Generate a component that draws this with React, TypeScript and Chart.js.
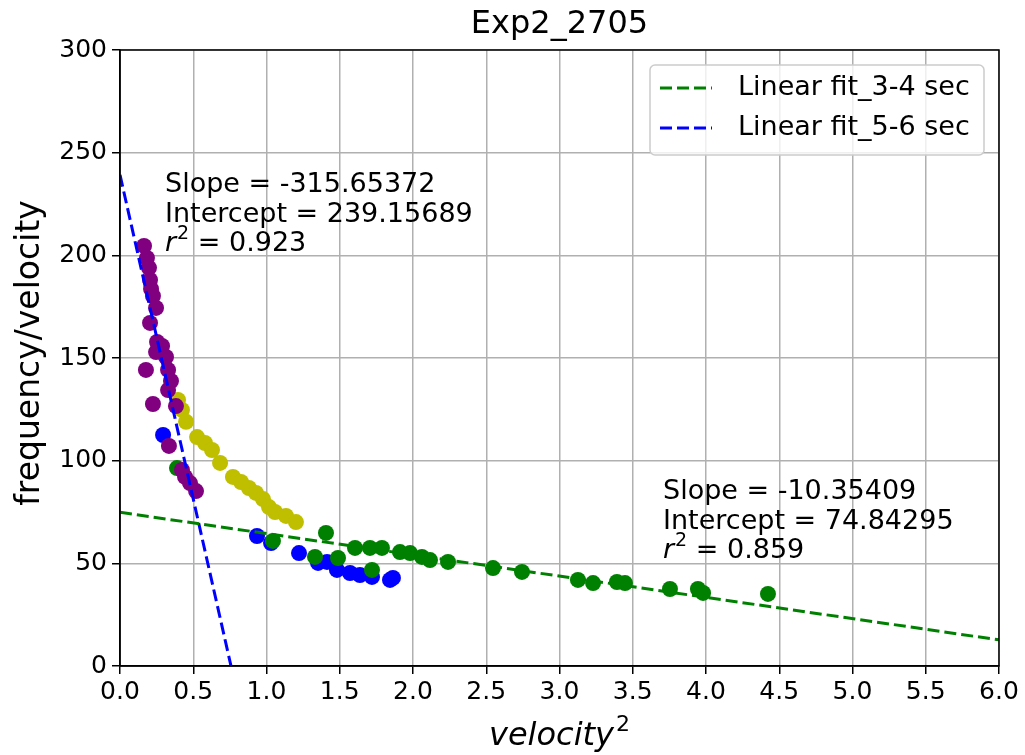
import React, { useEffect, useRef } from "react";
import { Chart, registerables } from "chart.js";

Chart.register(...registerables);

// ---- data ----
const xTickValues = [0, 0.5, 1.0, 1.5, 2.0, 2.5, 3.0, 3.5, 4.0, 4.5, 5.0, 5.5, 6.0];
const yTickValues = [0, 50, 100, 150, 200, 250, 300];

const purpleX = [0.164, 0.184, 0.198, 0.205, 0.212, 0.225, 0.246, 0.205, 0.253, 0.287, 0.246, 0.314, 0.177, 0.328, 0.348, 0.328, 0.382, 0.225, 0.334, 0.423, 0.444, 0.478, 0.519];
const purpleY = [204.6, 198.7, 193.9, 188.0, 183.6, 180.2, 174.4, 167.1, 157.8, 155.9, 152.9, 150.5, 144.2, 144.2, 138.8, 134.4, 126.6, 127.6, 107.2, 95.5, 92.1, 89.1, 85.2];

const yellowX = [0.396, 0.423, 0.451, 0.526, 0.58, 0.628, 0.683, 0.771, 0.826, 0.88, 0.928, 0.976, 1.017, 1.058, 1.133, 1.201];
const yellowY = [129.6, 124.7, 118.9, 111.5, 108.6, 105.2, 98.9, 92.1, 89.6, 86.7, 84.3, 81.3, 77.4, 75.0, 73.1, 70.1];

const blueX = [0.294, 0.935, 1.031, 1.222, 1.352, 1.413, 1.481, 1.57, 1.638, 1.72, 1.843, 1.863];
const blueY = [112.5, 63.3, 59.9, 55.0, 50.2, 50.7, 46.8, 45.3, 44.3, 43.4, 41.9, 42.9];

const greenX = [0.389, 1.044, 1.406, 1.331, 1.488, 1.604, 1.706, 1.72, 1.788, 1.911, 1.98, 2.061, 2.116, 2.239, 2.546, 2.744, 3.126, 3.229, 3.392, 3.447, 3.754, 3.945, 3.98, 4.423];
const greenY = [96.4, 60.9, 64.8, 53.1, 52.6, 57.5, 57.5, 46.8, 57.5, 55.5, 55.0, 53.1, 51.6, 50.7, 47.7, 45.8, 41.9, 40.4, 40.9, 40.4, 37.5, 37.5, 35.6, 35.1];

const fitGreen = { slope: -10.35409, intercept: 74.84295, r2: "0.859", xRange: [0, 6] };
const fitBlue = { slope: -315.65372, intercept: 239.15689, r2: "0.923", xRange: [0, 0.7577] };

const legendLabels = ["Linear fit_3-4 sec", "Linear fit_5-6 sec"];
const titleText = "Exp2_2705";
const yLabelText = "frequency/velocity";
const xLabelText = "velocity";

const FONT = "'DejaVu Sans', sans-serif";
const TXT = 27;

const toPts = (xs: number[], ys: number[]) => xs.map((x, i) => ({ x, y: ys[i] }));
const fitPts = (f: { slope: number; intercept: number; xRange: number[] }) =>
  f.xRange.map((x) => ({ x, y: f.slope * x + f.intercept }));

function drawR2(ctx: CanvasRenderingContext2D, x: number, y: number, val: string) {
  ctx.textBaseline = "middle";
  ctx.textAlign = "left";
  ctx.font = `italic ${TXT}px ${FONT}`;
  ctx.fillText("r", x, y);
  let w = ctx.measureText("r").width;
  ctx.font = `19px ${FONT}`;
  ctx.fillText("2", x + w + 1, y - 10);
  w += ctx.measureText("2").width + 1;
  ctx.font = `${TXT}px ${FONT}`;
  ctx.fillText(" = " + val, x + w, y);
}

const overlayPlugin = {
  id: "overlay",
  afterDraw(chart: any) {
    const ctx: CanvasRenderingContext2D = chart.ctx;
    const a = chart.chartArea;
    ctx.save();
    // frame
    ctx.strokeStyle = "#000";
    ctx.lineWidth = 1.5;
    ctx.setLineDash([]);
    ctx.strokeRect(a.left, a.top, a.right - a.left, a.bottom - a.top);

    ctx.fillStyle = "#000";
    // title
    ctx.font = `32px ${FONT}`;
    ctx.textAlign = "center";
    ctx.textBaseline = "middle";
    ctx.fillText(titleText, (a.left + a.right) / 2, 25);

    // y label
    ctx.save();
    ctx.translate(30, 353);
    ctx.rotate(-Math.PI / 2);
    ctx.font = `33px ${FONT}`;
    ctx.fillText(yLabelText, 0, 0);
    ctx.restore();

    // x label with superscript
    ctx.font = `italic 32px ${FONT}`;
    const w1 = ctx.measureText(xLabelText).width;
    ctx.font = `22px ${FONT}`;
    const w2 = ctx.measureText("2").width;
    const cx = (a.left + a.right) / 2;
    const sx = cx - (w1 + w2 + 2) / 2;
    ctx.textAlign = "left";
    ctx.font = `italic 32px ${FONT}`;
    ctx.fillText(xLabelText, sx, 737);
    ctx.font = `22px ${FONT}`;
    ctx.fillText("2", sx + w1 + 2, 725);

    // annotations
    ctx.font = `${TXT}px ${FONT}`;
    ctx.textAlign = "left";
    ctx.fillText(`Slope = ${fitBlue.slope.toFixed(5)}`, 165, 185);
    ctx.fillText(`Intercept = ${fitBlue.intercept.toFixed(5)}`, 165, 215);
    drawR2(ctx, 165, 244, fitBlue.r2);
    ctx.font = `${TXT}px ${FONT}`;
    ctx.fillText(`Slope = ${fitGreen.slope.toFixed(5)}`, 663, 492);
    ctx.fillText(`Intercept = ${fitGreen.intercept.toFixed(5)}`, 663, 522);
    drawR2(ctx, 663, 551, fitGreen.r2);

    // legend
    const bx = 650, by = 65, bw = 334, bh = 90;
    ctx.beginPath();
    (ctx as any).roundRect(bx, by, bw, bh, 5);
    ctx.fillStyle = "rgba(255,255,255,0.8)";
    ctx.fill();
    ctx.strokeStyle = "#cccccc";
    ctx.lineWidth = 1.5;
    ctx.stroke();
    const colors = ["#008000", "#0000ff"];
    legendLabels.forEach((lab, i) => {
      const ly = 88 + i * 40;
      ctx.beginPath();
      ctx.setLineDash([12, 5]);
      ctx.strokeStyle = colors[i];
      ctx.lineWidth = 3;
      ctx.moveTo(660, ly);
      ctx.lineTo(712, ly);
      ctx.stroke();
      ctx.setLineDash([]);
      ctx.fillStyle = "#000";
      ctx.font = `${TXT}px ${FONT}`;
      ctx.textBaseline = "middle";
      ctx.fillText(lab, 738, ly);
    });
    ctx.restore();
  },
};

export default function App() {
  const ref = useRef<HTMLCanvasElement>(null);
  useEffect(() => {
    document.body.style.margin = "0";
    const c = ref.current!;
    const lineCommon = {
      type: "line" as const,
      showLine: true,
      pointRadius: 0,
      borderWidth: 3,
      borderDash: [12, 5],
      fill: false,
    };
    const ptCommon = { pointRadius: 8, pointHoverRadius: 8, borderWidth: 0 };
    const chart = new Chart(c, {
      type: "scatter",
      data: {
        datasets: [
          { ...lineCommon, label: legendLabels[0], data: fitPts(fitGreen), borderColor: "#008000" },
          { ...lineCommon, label: legendLabels[1], data: fitPts(fitBlue), borderColor: "#0000ff" },
          { label: "purple", data: toPts(purpleX, purpleY), backgroundColor: "#800080", ...ptCommon },
          { label: "green", data: toPts(greenX, greenY), backgroundColor: "#008000", ...ptCommon },
          { label: "blue", data: toPts(blueX, blueY), backgroundColor: "#0000ff", ...ptCommon },
          { label: "yellow", data: toPts(yellowX, yellowY), backgroundColor: "#bfbf00", ...ptCommon },
        ] as any,
      },
      options: {
        animation: false,
        responsive: false,
        layout: { padding: { top: 50, right: 26, left: 0, bottom: 0 } },
        plugins: { legend: { display: false }, title: { display: false }, tooltip: { enabled: false } },
        scales: {
          x: {
            type: "linear",
            min: 0,
            max: 6,
            afterFit: (s: any) => { s.height = 89; },
            afterBuildTicks: (s: any) => { s.ticks = xTickValues.map((v) => ({ value: v })); },
            ticks: {
              callback: (v: any) => Number(v).toFixed(1),
              font: { family: FONT, size: 25 },
              color: "#000",
              padding: 3,
              maxRotation: 0,
              autoSkip: false,
            },
            grid: { color: "#b0b0b0", lineWidth: 1.5, tickColor: "#000", tickLength: 8, tickWidth: 1.5 },
            border: { display: true, color: "#000", width: 1.5 },
          },
          y: {
            type: "linear",
            min: 0,
            max: 300,
            afterFit: (s: any) => { s.width = 120; },
            afterBuildTicks: (s: any) => { s.ticks = yTickValues.map((v) => ({ value: v })); },
            ticks: {
              callback: (v: any) => String(v),
              font: { family: FONT, size: 25 },
              color: "#000",
              padding: 5,
              autoSkip: false,
            },
            grid: { color: "#b0b0b0", lineWidth: 1.5, tickColor: "#000", tickLength: 8, tickWidth: 1.5 },
            border: { display: true, color: "#000", width: 1.5 },
          },
        },
      } as any,
      plugins: [overlayPlugin],
    });
    return () => chart.destroy();
  }, []);
  return <canvas ref={ref} width={1025} height={755} style={{ display: "block" }} />;
}
